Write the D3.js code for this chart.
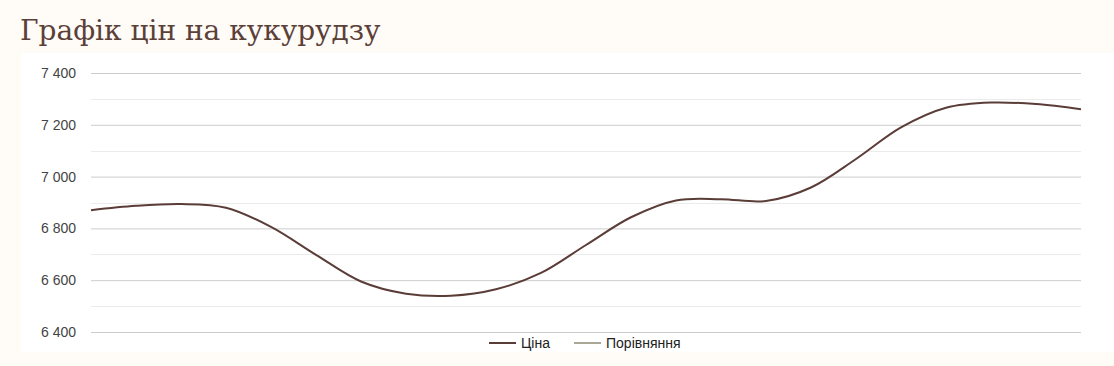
<!DOCTYPE html>
<html lang="uk">
	<head>
		<meta charset="utf-8">
		<title>Графік цін на кукурудзу</title>
		<script type="text/javascript" src="https://cdn.jsdelivr.net/npm/d3@7"></script>
		<style type="text/css">
			body { margin: 0; background: #fffbf7; }
			svg { display: block; }
		</style>
	</head>
	<body>
		<script type="text/javascript">
			// price readings (one point every step)
			var prices = [6870, 6887, 6894, 6880, 6806, 6698, 6595, 6548, 6540, 6565, 6628, 6736,
			              6843, 6908, 6913, 6906, 6958, 7068, 7190, 7266, 7286, 7280, 7260];
			var majorTicks = [6400, 6600, 6800, 7000, 7200, 7400];
			var minorTicks = [6500, 6700, 6900, 7100, 7300];
			var seriesNames = ["Ціна", "Порівняння"];
			var seriesColors = ["#5b3d38", "#a9a896"];

			var w = 1114;
			var h = 366;

			var svg = d3.select("body")
						.append("svg")
						.attr("width", w)
						.attr("height", h);

			// white panel
			svg.append("rect")
			   .attr("x", 21)
			   .attr("y", 53)
			   .attr("width", w - 21)
			   .attr("height", 299)
			   .attr("fill", "#ffffff");

			// title
			svg.append("text")
			   .attr("x", 20)
			   .attr("y", 40)
			   .attr("font-family", "'DejaVu Serif', serif")
			   .attr("font-size", "28px")
			   .attr("fill", "#5b4038")
			   .text("Графік цін на кукурудзу");

			var xScale = d3.scaleLinear()
						   .domain([0, prices.length - 1])
						   .range([91, 1081]);

			var yScale = d3.scaleLinear()
						   .domain([6400, 7400])
						   .range([332, 73]);

			//minor grid
			svg.append("g")
			   .selectAll("line")
			   .data(minorTicks)
			   .enter()
			   .append("line")
			   .attr("x1", 91)
			   .attr("x2", 1081)
			   .attr("y1", function(d) { return Math.round(yScale(d)) + 0.5; })
			   .attr("y2", function(d) { return Math.round(yScale(d)) + 0.5; })
			   .attr("stroke", "#ebebeb");

			//Y axis with major grid
			var yAxis = d3.axisLeft()
						  .scale(yScale)
						  .tickValues(majorTicks)
						  .tickSize(-(1081 - 91))
						  .tickPadding(15)
						  .tickFormat(function(d) { return d3.format(",")(d).replace(",", " "); });

			var gy = svg.append("g")
						.attr("transform", "translate(91,0)")
						.call(yAxis);
			gy.select(".domain").remove();
			gy.selectAll(".tick line").attr("stroke", "#cccccc");
			gy.selectAll(".tick text")
			  .attr("font-family", "Arial, 'Liberation Sans', sans-serif")
			  .attr("font-size", "14px")
			  .attr("fill", "#444444");

			//price line
			var line = d3.line()
						 .x(function(d, i) { return xScale(i); })
						 .y(function(d) { return yScale(d); })
						 .curve(d3.curveCatmullRom.alpha(0.5));

			svg.append("path")
			   .datum(prices)
			   .attr("d", line)
			   .attr("fill", "none")
			   .attr("stroke", seriesColors[0])
			   .attr("stroke-width", 2);

			//legend
			var legendX = [489, 574];
			var legend = svg.append("g")
							.selectAll("g")
							.data(seriesNames)
							.enter()
							.append("g")
							.attr("transform", function(d, i) { return "translate(" + legendX[i] + ",343)"; });

			legend.append("line")
				  .attr("x1", 0)
				  .attr("x2", 27)
				  .attr("y1", 0)
				  .attr("y2", 0)
				  .attr("stroke", function(d, i) { return seriesColors[i]; })
				  .attr("stroke-width", 2);

			legend.append("text")
				  .attr("x", 32)
				  .attr("y", 5)
				  .attr("font-family", "Arial, 'Liberation Sans', sans-serif")
				  .attr("font-size", "14px")
				  .attr("fill", "#222222")
				  .text(function(d) { return d; });
		</script>
	</body>
</html>
